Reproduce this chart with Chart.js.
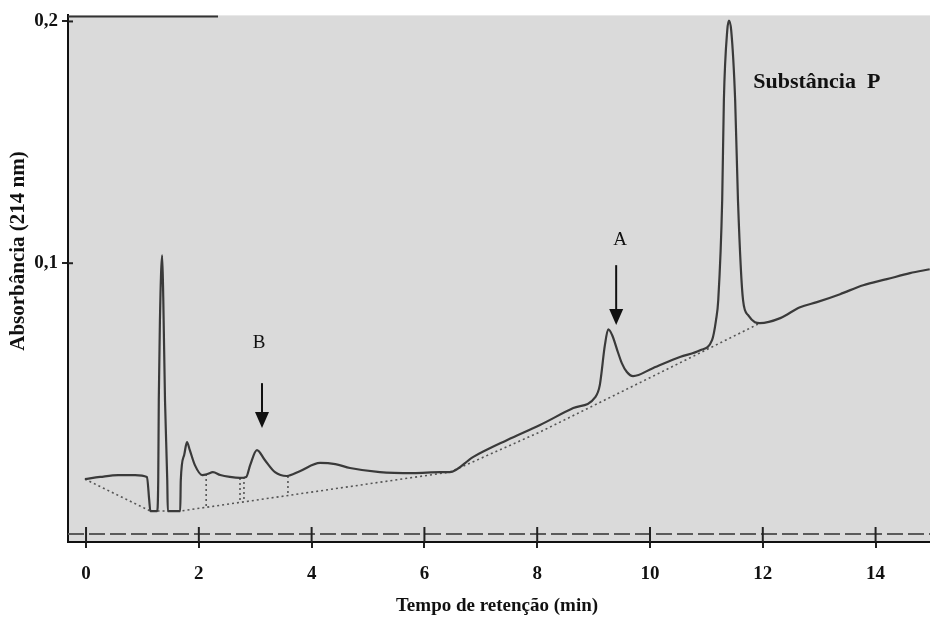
<!DOCTYPE html>
<html><head><meta charset="utf-8">
<script src="https://cdn.jsdelivr.net/npm/chart.js@4.4.1/dist/chart.umd.min.js"></script>
<style>html,body{margin:0;padding:0;background:#fff}#wrap{width:930px;height:620px}</style>
</head><body><div id="wrap"><canvas id="c" width="930" height="620"></canvas></div>
<script>
// ---- data ----
const timeMin = [-0.02,0.25,0.57,0.87,1.08,1.12,1.14,1.26,1.28,1.29,1.31,1.35,1.37,1.40,1.44,1.45,1.67,1.68,1.74,1.79,1.84,1.93,2.06,2.15,2.25,2.38,2.55,2.73,2.84,2.91,3.03,3.17,3.35,3.56,3.79,4.15,4.42,4.68,5.21,5.80,6.28,6.45,6.86,7.47,8.05,8.64,9.03,9.11,9.20,9.26,9.33,9.42,9.50,9.59,9.70,10.05,10.53,10.89,11.10,11.17,11.21,11.28,11.31,11.37,11.40,11.44,11.51,11.56,11.65,11.74,11.86,11.95,12.31,12.66,12.96,13.37,13.78,14.20,14.61,14.96];
const absorbance = [0.0107,0.0116,0.0124,0.0124,0.0116,0.0021,-0.0025,-0.0025,0.0103,0.0434,0.0764,0.1033,0.0847,0.0434,0.0103,-0.0025,-0.0025,0.0103,0.0207,0.0260,0.0227,0.0165,0.0124,0.0128,0.0136,0.0124,0.0116,0.0112,0.0116,0.0165,0.0227,0.0186,0.0136,0.0120,0.0140,0.0174,0.0169,0.0153,0.0136,0.0132,0.0136,0.0136,0.0198,0.0269,0.0331,0.0401,0.0446,0.0496,0.0661,0.0727,0.0702,0.0640,0.0587,0.0550,0.0533,0.0566,0.0612,0.0640,0.0682,0.0764,0.0847,0.1260,0.1674,0.1963,0.2004,0.1963,0.1674,0.1260,0.0847,0.0785,0.0756,0.0752,0.0773,0.0818,0.0839,0.0872,0.0909,0.0934,0.0959,0.0975];

// dotted integration baseline
const baselineT = [-0.02, 1.14, 1.67, 6.45, 8.05, 9.70, 11.95];
const baselineA = [0.0107, -0.0025, -0.0025, 0.0136, 0.0302, 0.0492, 0.0752];

// vertical dotted drop lines
const dropT = [2.13, 2.73, 2.80, 3.58];
const dropTop = [0.0128, 0.0112, 0.0116, 0.0120];
const dropBottom = [-0.0010, 0.0012, 0.0014, 0.0040];

// axes
const xTicks = [0, 2, 4, 6, 8, 10, 12, 14];
const yTickValues = [0.1, 0.2];
const yTickLabels = ['0,1', '0,2'];
const xTitle = 'Tempo de retenção (min)';
const yTitle = 'Absorbância (214 nm)';

// annotations
const labelTexts = ['A', 'B', 'Substância  P'];
const labelT = [9.47, 3.07, 11.83];
const labelA = [0.1095, 0.0669, 0.1748];
const arrowT = [9.40, 3.12];
const arrowTopA = [0.0992, 0.0504];
const arrowTipA = [0.0744, 0.0318];
const recorderLevel = -0.012;
const topSegmentEndT = 2.34;

// ---- build datasets ----
const curve = timeMin.map((t, i) => ({x: t, y: absorbance[i]}));
const baseline = baselineT.map((t, i) => ({x: t, y: baselineA[i]}));
const drops = [];
dropT.forEach((t, i) => { drops.push({x: t, y: dropTop[i]}, {x: t, y: dropBottom[i]}, {x: t, y: null}); });

const SERIF = '"Liberation Serif", "Times New Roman", serif';

const decor = {
  id: 'decor',
  beforeDraw(chart) {
    const {ctx, chartArea: a} = chart;
    ctx.save();
    ctx.fillStyle = '#dadada';
    ctx.fillRect(a.left, a.top, a.right - a.left, a.bottom - a.top);
    ctx.restore();
  },
  afterDraw(chart) {
    const {ctx, chartArea: a, scales: {x, y}} = chart;
    ctx.save();
    // recorder baseline with time marks
    const yr = y.getPixelForValue(recorderLevel);
    ctx.strokeStyle = '#5a5a5a'; ctx.lineWidth = 2; ctx.setLineDash([16, 5]);
    ctx.beginPath(); ctx.moveTo(a.left, yr); ctx.lineTo(a.right, yr); ctx.stroke();
    ctx.setLineDash([]);
    ctx.strokeStyle = '#222'; ctx.lineWidth = 2;
    xTicks.forEach(v => { const px = x.getPixelForValue(v); ctx.beginPath(); ctx.moveTo(px, yr - 7); ctx.lineTo(px, a.bottom); ctx.stroke(); });
    yTickValues.forEach(v => { const py = y.getPixelForValue(v); ctx.beginPath(); ctx.moveTo(a.left, py); ctx.lineTo(a.left + 5, py); ctx.stroke(); });
    // top frame segment
    ctx.strokeStyle = '#333'; ctx.lineWidth = 2;
    ctx.beginPath(); ctx.moveTo(a.left, a.top + 1); ctx.lineTo(x.getPixelForValue(topSegmentEndT), a.top + 1); ctx.stroke();
    // arrows
    ctx.fillStyle = '#111'; ctx.strokeStyle = '#111';
    arrowT.forEach((t, i) => {
      const px = x.getPixelForValue(t), p1 = y.getPixelForValue(arrowTopA[i]), p2 = y.getPixelForValue(arrowTipA[i]);
      ctx.lineWidth = 2;
      ctx.beginPath(); ctx.moveTo(px, p1); ctx.lineTo(px, p2 - 14); ctx.stroke();
      ctx.beginPath(); ctx.moveTo(px - 7, p2 - 16); ctx.lineTo(px + 7, p2 - 16); ctx.lineTo(px, p2); ctx.closePath(); ctx.fill();
    });
    // labels
    ctx.textBaseline = 'middle';
    labelTexts.forEach((s, i) => {
      const px = x.getPixelForValue(labelT[i]), py = y.getPixelForValue(labelA[i]);
      if (i < 2) { ctx.font = '19px ' + SERIF; ctx.textAlign = 'center'; }
      else { ctx.font = 'bold 22px ' + SERIF; ctx.textAlign = 'left'; }
      ctx.fillText(s, px, py);
    });
    // axis titles
    ctx.font = 'bold 19px ' + SERIF; ctx.textAlign = 'center';
    ctx.fillText(xTitle, (a.left + a.right) / 2 - 2, 606);
    ctx.save();
    ctx.translate(19, 251); ctx.rotate(-Math.PI / 2);
    ctx.font = 'bold 21px ' + SERIF;
    ctx.fillText(yTitle, 0, 0);
    ctx.restore();
    ctx.restore();
  }
};

new Chart(document.getElementById('c'), {
  type: 'line',
  data: {
    datasets: [
      {data: curve, borderColor: '#3a3a3a', borderWidth: 2.2, pointRadius: 0, cubicInterpolationMode: 'monotone', fill: false},
      {data: baseline, borderColor: '#555', borderWidth: 1.6, borderDash: [2, 3], pointRadius: 0, tension: 0, fill: false},
      {data: drops, borderColor: '#555', borderWidth: 1.6, borderDash: [2, 3], pointRadius: 0, tension: 0, spanGaps: false, fill: false}
    ]
  },
  options: {
    responsive: false,
    devicePixelRatio: 1,
    animation: false,
    layout: {padding: {top: 15, right: 0, left: 0, bottom: 0}},
    plugins: {legend: {display: false}, tooltip: {enabled: false}},
    scales: {
      x: {
        type: 'linear', min: -0.32, max: 14.965,
        afterFit: s => { s.height = 78; },
        afterBuildTicks: s => { s.ticks = xTicks.map(v => ({value: v})); },
        ticks: {autoSkip: false, maxRotation: 0, padding: 15, color: '#111', font: {family: SERIF, size: 19, weight: 'bold'}, callback: v => String(v)},
        grid: {drawOnChartArea: false, drawTicks: true, tickLength: 6, color: '#222', lineWidth: 2},
        border: {display: true, color: '#111', width: 2}
      },
      y: {
        type: 'linear', min: -0.0153, max: 0.2025,
        afterFit: s => { s.width = 68; },
        afterBuildTicks: s => { s.ticks = yTickValues.map(v => ({value: v})); },
        ticks: {autoSkip: false, padding: 4, color: '#111', font: {family: SERIF, size: 19, weight: 'bold'}, callback: v => yTickLabels[yTickValues.indexOf(v)]},
        grid: {drawOnChartArea: false, drawTicks: true, tickLength: 6, color: '#222', lineWidth: 2},
        border: {display: true, color: '#111', width: 2}
      }
    }
  },
  plugins: [decor]
});
</script></body></html>
